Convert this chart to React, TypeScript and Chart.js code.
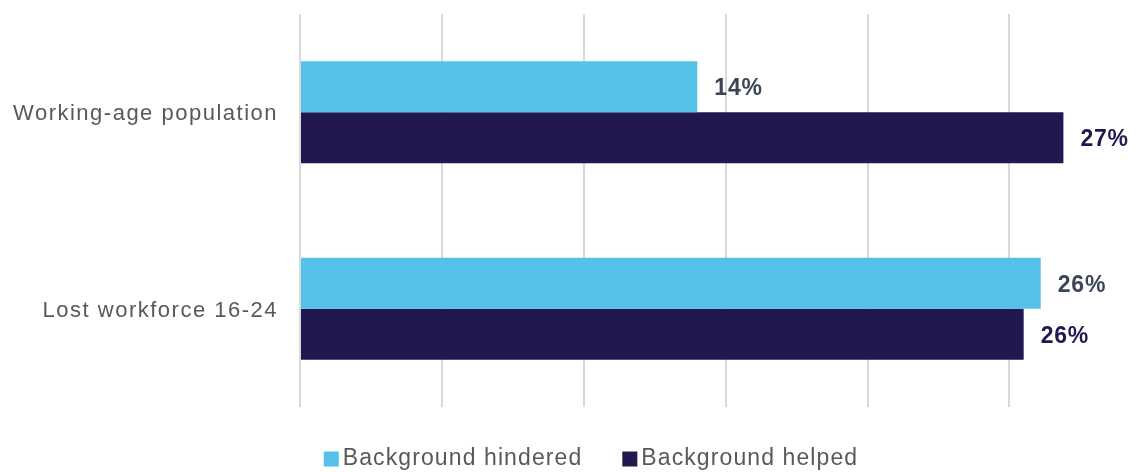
import React, { useEffect, useRef } from "react";
import { Chart, registerables } from "chart.js";

Chart.register(...registerables);

const categories = ["Working-age population", "Lost workforce 16-24"];
const seriesNames = ["Background hindered", "Background helped"];
const hindered = [14, 26.1];
const helped = [26.9, 25.5];
const gridTicks = [0, 5, 10, 15, 20, 25];

const COLORS = ["#56C1E8", "#21184F"];
const LABEL_COLORS = ["#3A4656", "#21184F"];
const FONT = "'Liberation Sans', Arial, sans-serif";

const spacingPlugin = {
  id: "spacing",
  beforeUpdate(chart: any) {
    chart.ctx.letterSpacing = "1.5px";
  },
  beforeDraw(chart: any) {
    chart.ctx.letterSpacing = "1.5px";
  },
};

const valueLabels = {
  id: "valueLabels",
  afterDatasetsDraw(chart: any) {
    const ctx = chart.ctx;
    ctx.save();
    ctx.letterSpacing = "0.8px";
    ctx.font = `bold 23px ${FONT}`;
    ctx.textBaseline = "middle";
    ctx.textAlign = "left";
    chart.data.datasets.forEach((ds: any, i: number) => {
      const meta = chart.getDatasetMeta(i);
      meta.data.forEach((bar: any, j: number) => {
        ctx.fillStyle = LABEL_COLORS[i];
        ctx.fillText(`${Math.round(ds.data[j])}%`, bar.x + 17, bar.y + 2);
      });
    });
    ctx.restore();
  },
};

const customLegend = {
  id: "customLegend",
  afterDraw(chart: any) {
    const ctx = chart.ctx;
    ctx.save();
    ctx.letterSpacing = "1.1px";
    ctx.font = `23px ${FONT}`;
    ctx.textBaseline = "middle";
    ctx.textAlign = "left";
    const box = 15;
    const boxGap = 4;
    const itemGap = 40;
    const items = chart.data.datasets.map((ds: any, i: number) => ({
      text: ds.label,
      color: ds.backgroundColor,
      w: box + boxGap + ctx.measureText(ds.label).width,
    }));
    const total = items.reduce((s: number, it: any) => s + it.w, 0) + itemGap * (items.length - 1);
    let x = chart.width / 2 + 20 - total / 2;
    const cy = 459;
    items.forEach((it: any) => {
      ctx.fillStyle = it.color;
      ctx.fillRect(x, cy - 7.5, box, box);
      ctx.fillStyle = "#595959";
      ctx.fillText(it.text, x + box + boxGap, cy);
      x += it.w + itemGap;
    });
    ctx.restore();
  },
};

export default function App() {
  const ref = useRef<HTMLCanvasElement>(null);
  useEffect(() => {
    document.body.style.margin = "0";
    const chart = new Chart(ref.current!, {
      type: "bar",
      data: {
        labels: categories,
        datasets: [
          { label: seriesNames[0], data: hindered, backgroundColor: COLORS[0] },
          { label: seriesNames[1], data: helped, backgroundColor: COLORS[1] },
        ],
      },
      options: {
        indexAxis: "y",
        animation: false,
        responsive: false,
        maintainAspectRatio: false,
        layout: { padding: { top: 14, right: 19, left: 0, bottom: 65 } },
        datasets: { bar: { categoryPercentage: 0.518, barPercentage: 1 } },
        scales: {
          x: {
            min: 0,
            max: 29,
            afterBuildTicks(scale: any) {
              scale.ticks = gridTicks.map((v) => ({ value: v }));
            },
            afterFit(scale: any) {
              scale.height = 0;
              scale.paddingLeft = 0;
              scale.paddingRight = 0;
            },
            ticks: { display: false },
            grid: { color: "#D9D9D9", lineWidth: 2, drawTicks: false },
            border: { display: false },
          },
          y: {
            afterFit(scale: any) {
              scale.width = 300;
              scale.paddingTop = 0;
              scale.paddingBottom = 0;
            },
            ticks: {
              color: "#595959",
              font: { family: FONT, size: 22 },
              padding: 22,
              labelOffset: 2,
            },
            grid: { display: false, drawTicks: false },
            border: { display: false },
          },
        },
        plugins: {
          legend: { display: false },
          tooltip: { enabled: false },
        },
      },
      plugins: [spacingPlugin, valueLabels, customLegend],
    });
    return () => chart.destroy();
  }, []);
  return (
    <div style={{ width: 1142, height: 472 }}>
      <canvas ref={ref} width={1142} height={472} />
    </div>
  );
}
